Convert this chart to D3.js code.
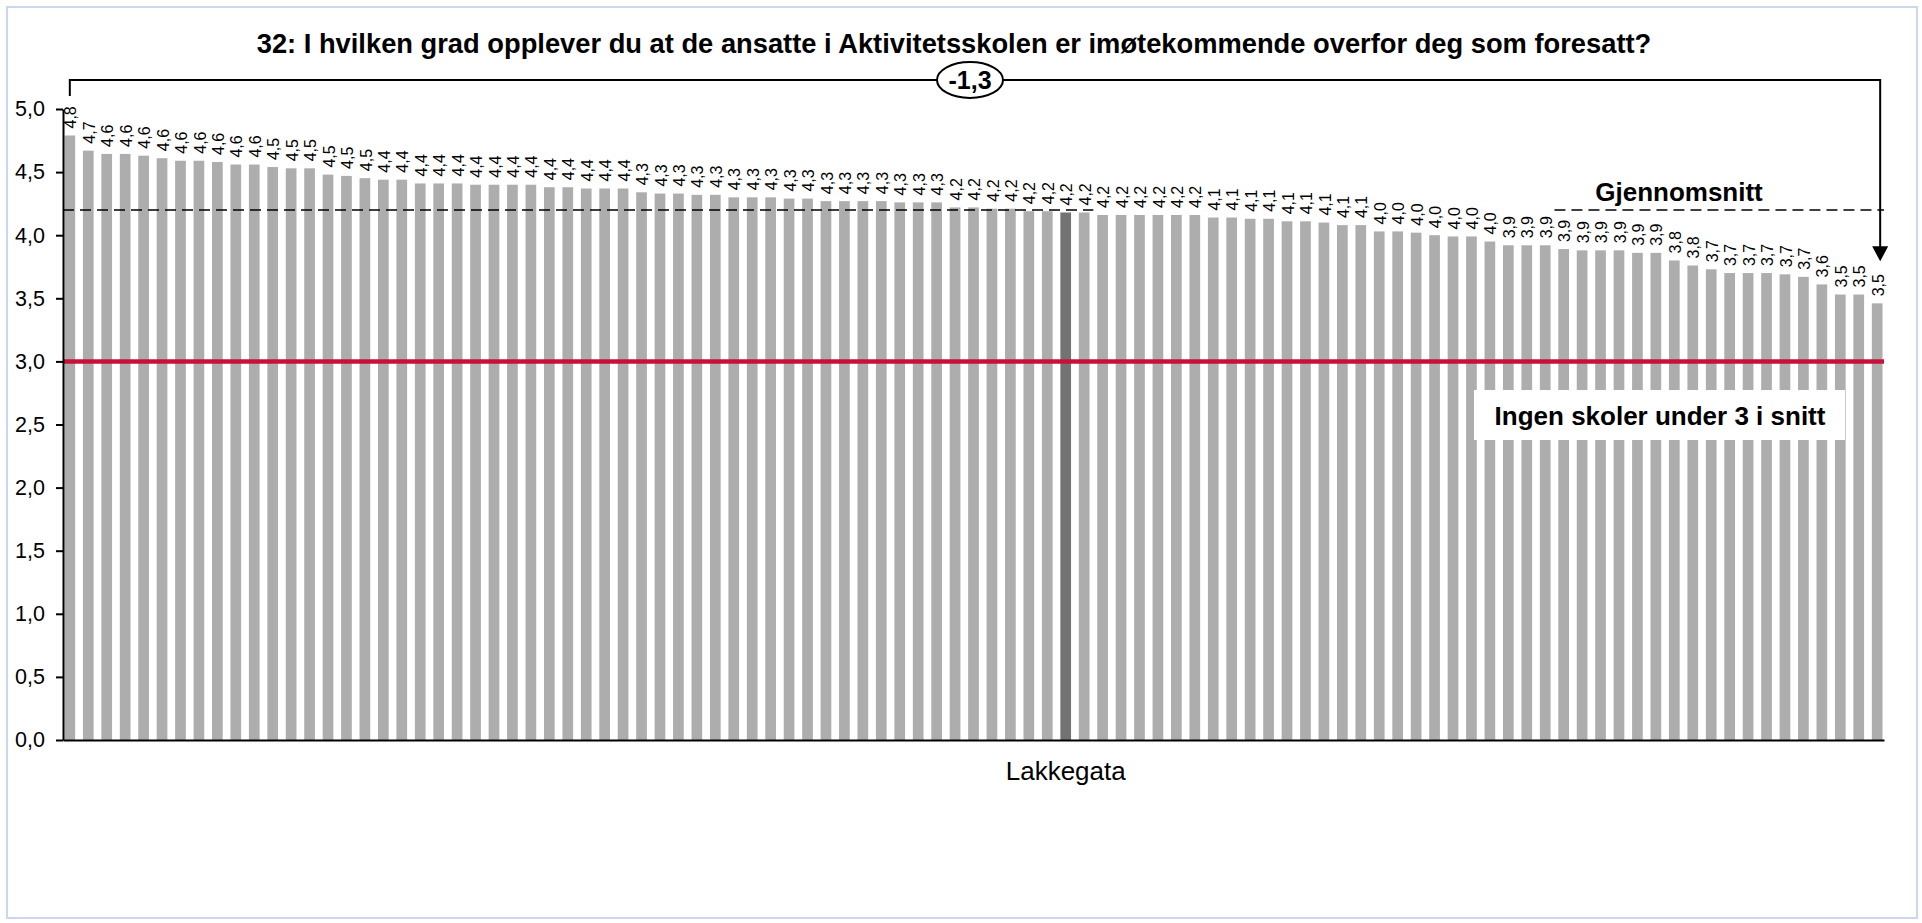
<!DOCTYPE html>
<html>
<head>
<meta charset="utf-8">
<script src="https://cdn.jsdelivr.net/npm/d3@7"></script>
<style>
  body { margin: 0; background: #fff; }
  svg { display: block; font-family: "Liberation Sans", Arial, sans-serif; }
</style>
</head>
<body>
<svg id="chart"></svg>
<script>
// school averages, sorted high -> low
var values = [
  4.79, 4.67, 4.644, 4.644, 4.63, 4.61, 4.59, 4.59, 4.58, 4.56, 4.56,
  4.54, 4.53, 4.53, 4.48, 4.47, 4.452,
  4.44, 4.44, 4.41, 4.41, 4.41, 4.40, 4.40, 4.40, 4.40, 4.38, 4.38, 4.37, 4.37, 4.37,
  4.34, 4.33, 4.33, 4.32, 4.32, 4.30, 4.30, 4.30, 4.29, 4.29, 4.27, 4.27, 4.27, 4.27, 4.26, 4.26, 4.26,
  4.22, 4.22, 4.21, 4.21, 4.19, 4.19, 4.18, 4.18, 4.16, 4.16, 4.16, 4.16, 4.16, 4.16,
  4.14, 4.14, 4.13, 4.13, 4.11, 4.11, 4.10, 4.08, 4.08,
  4.03, 4.03, 4.02, 4.00, 3.99, 3.99,
  3.95, 3.92, 3.92, 3.92, 3.89, 3.88, 3.88, 3.88, 3.86, 3.86,
  3.80, 3.76, 3.73, 3.70, 3.70, 3.70, 3.69, 3.67, 3.61, 3.53, 3.53, 3.46
];
var highlightName = 'Lakkegata';
var highlightIndex = 54;
var average = 4.2;
var threshold = 3;
var yTicks = [0, 0.5, 1, 1.5, 2, 2.5, 3, 3.5, 4, 4.5, 5];
// the dashed average line is drawn in two pieces (bar index ranges)
var avgSegments = [[0, 56], [81, 99]];

var title = '32: I hvilken grad opplever du at de ansatte i Aktivitetsskolen er imøtekommende overfor deg som foresatt?';
var avgLabel = 'Gjennomsnitt';
var thresholdLabel = 'Ingen skoler under 3 i snitt';

var W = 1922, H = 923;
var plotL = 63, plotR = 1884, plotT = 109, plotB = 740;

var nb = d3.formatLocale({ decimal: ',', thousands: ' ', grouping: [3], currency: ['', ''], minus: '-' });
var fmt = nb.format('.1f');

var svg = d3.select('#chart')
  .attr('width', W)
  .attr('height', H);

// light frame round the whole chart
svg.append('rect')
  .attr('x', 7).attr('y', 7)
  .attr('width', W - 12).attr('height', H - 12)
  .attr('fill', '#fff')
  .attr('stroke', '#ccd7ee')
  .attr('stroke-width', 2);

var idx = d3.range(values.length);

var x = d3.scaleBand()
  .domain(idx)
  .range([plotL, plotR])
  .paddingInner(0.42)
  .paddingOuter(0.08);

var y = d3.scaleLinear()
  .domain([0, 5])
  .range([plotB, plotT]);

// title
svg.append('text')
  .attr('x', 954)
  .attr('y', 53)
  .attr('text-anchor', 'middle')
  .style('font-size', '27.3px')
  .style('font-weight', 'bold')
  .text(title);

// bars
svg.selectAll('.bar')
  .data(idx)
  .enter()
  .append('rect')
  .attr('class', 'bar')
  .attr('x', function (i) { return x(i); })
  .attr('width', x.bandwidth())
  .attr('y', function (i) { return y(values[i]); })
  .attr('height', function (i) { return y(0) - y(values[i]); })
  .attr('fill', function (i) { return i === highlightIndex ? '#737373' : '#adadad'; });

// value labels, rotated
svg.selectAll('.lbl')
  .data(idx)
  .enter()
  .append('text')
  .attr('class', 'lbl')
  .attr('transform', function (i) {
    return 'translate(' + (x(i) + x.bandwidth() / 2 + 1) + ',' + (y(values[i]) - 7) + ') rotate(-90)';
  })
  .attr('dy', '0.35em')
  .style('font-size', '16px')
  .text(function (i) { return fmt(values[i]); });

// red threshold line
svg.append('line')
  .attr('x1', plotL).attr('x2', plotR)
  .attr('y1', y(threshold)).attr('y2', y(threshold))
  .attr('stroke', '#c8103c')
  .attr('stroke-width', 4.5);

// average line
var gap = x.step() * x.paddingInner();
avgSegments.forEach(function (s) {
  var x1 = s[0] === 0 ? plotL : x(s[0]) - gap / 2;
  var x2 = s[1] >= values.length ? plotR : x(s[1]) - gap / 2;
  svg.append('line')
    .attr('x1', x1).attr('x2', x2)
    .attr('y1', y(average)).attr('y2', y(average))
    .attr('stroke', '#000')
    .attr('stroke-width', 1.6)
    .attr('stroke-dasharray', '11,6');
});

svg.append('text')
  .attr('x', 1679)
  .attr('y', y(average) - 9)
  .attr('text-anchor', 'middle')
  .style('font-size', '26px')
  .style('font-weight', 'bold')
  .text(avgLabel);

// white box with the threshold note
svg.append('rect')
  .attr('x', 1474).attr('y', 390)
  .attr('width', 371).attr('height', 50)
  .attr('fill', '#fff');

svg.append('text')
  .attr('x', 1660)
  .attr('y', 425)
  .attr('text-anchor', 'middle')
  .style('font-size', '26px')
  .style('font-weight', 'bold')
  .text(thresholdLabel);

// axes
var yAxis = svg.append('g')
  .attr('transform', 'translate(' + plotL + ',0)')
  .call(d3.axisLeft(y).tickValues(yTicks).tickFormat(fmt).tickSize(7).tickSizeOuter(0).tickPadding(11));

var xAxis = svg.append('g')
  .attr('transform', 'translate(0,' + plotB + ')')
  .call(d3.axisBottom(x)
    .tickValues([highlightIndex])
    .tickFormat(function () { return highlightName; })
    .tickSize(0).tickSizeOuter(0).tickPadding(22));

[yAxis, xAxis].forEach(function (g) {
  g.selectAll('path, line').attr('stroke', '#000').attr('stroke-width', 2);
  g.selectAll('text').attr('fill', '#000').style('font-family', '"Liberation Sans", Arial, sans-serif');
});
yAxis.selectAll('text').style('font-size', '21.5px');
xAxis.selectAll('text').style('font-size', '26px');

// bracket: first bar -> last bar, with the difference in an oval
var first = values[0], last = values[values.length - 1];
var bx1 = x(0) + x.bandwidth() / 2;
var bx2 = x(values.length - 1) + x.bandwidth() / 2 + 3;
var by = 80;
var tipY = y(last) - 42;

svg.append('path')
  .attr('d', 'M' + bx1 + ',' + 96 + 'V' + by + 'H' + bx2 + 'V' + (tipY - 14))
  .attr('fill', 'none')
  .attr('stroke', '#000')
  .attr('stroke-width', 2);

svg.append('path')
  .attr('d', 'M' + (bx2 - 8) + ',' + (tipY - 15) + 'L' + (bx2 + 8) + ',' + (tipY - 15) + 'L' + bx2 + ',' + tipY + 'Z')
  .attr('fill', '#000');

svg.append('ellipse')
  .attr('cx', 970).attr('cy', by)
  .attr('rx', 33).attr('ry', 18)
  .attr('fill', '#fff')
  .attr('stroke', '#000')
  .attr('stroke-width', 2);

svg.append('text')
  .attr('x', 970)
  .attr('y', by + 9)
  .attr('text-anchor', 'middle')
  .style('font-size', '25px')
  .style('font-weight', 'bold')
  .text(fmt(last - first));
</script>
</body>
</html>
